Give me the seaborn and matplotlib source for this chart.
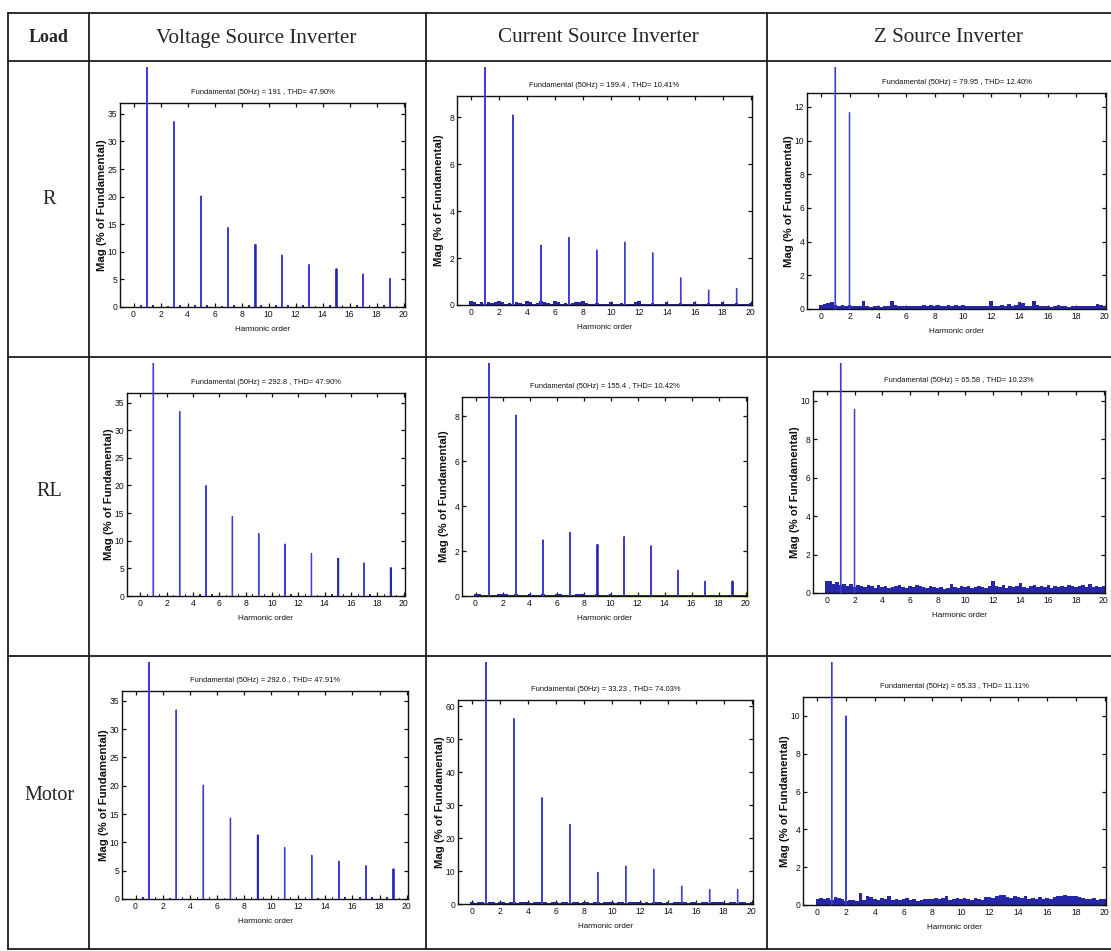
import numpy as np
import seaborn as sns
import matplotlib.pyplot as plt
from matplotlib.lines import Line2D
from matplotlib.transforms import Bbox, TransformedBbox
from matplotlib.ticker import MultipleLocator

# ---------------- data ----------------
loads = ['R', 'RL', 'Motor']
inverters = ['Voltage Source Inverter', 'Current Source Inverter', 'Z Source Inverter']

odd_orders = [1, 3, 5, 7, 9, 11, 13, 15, 17, 19]
zsi_orders = [1, 2]

# magnitudes in % of fundamental
vsi_r_mag = [100, 33.6, 20.1, 14.4, 11.3, 9.4, 7.7, 6.9, 6.0, 5.2]
vsi_rl_mag = [100, 33.4, 20.0, 14.4, 11.3, 9.4, 7.7, 6.8, 6.0, 5.1]
vsi_motor_mag = [100, 33.4, 20.1, 14.3, 11.3, 9.1, 7.7, 6.7, 5.9, 5.3]
csi_r_mag = [100, 8.1, 2.55, 2.88, 2.35, 2.68, 2.23, 1.16, 0.64, 0.71]
csi_rl_mag = [100, 8.06, 2.5, 2.84, 2.29, 2.65, 2.24, 1.15, 0.66, 0.66]
csi_motor_mag = [100, 56.3, 32.3, 24.2, 9.6, 11.5, 10.6, 5.45, 4.4, 4.4]
zsi_r_mag = [100, 11.66]
zsi_rl_mag = [100, 9.55]
zsi_motor_mag = [100, 10.0]

# harmonics that show up as two neighbouring bins (thicker spikes)
vsi_r_double = [9, 15]
vsi_rl_double = [15, 19]
vsi_motor_double = [9, 19]
csi_rl_double = [9, 19]

# small side components of the VSI spectra
vsi_side_orders = [0.55, 1.45, 2.55, 3.45, 4.55, 5.45, 6.55, 7.45, 8.55, 9.45,
                   10.55, 11.45, 12.55, 13.45, 14.55, 15.45, 16.55, 17.45, 18.55, 19.45]
vsi_side_mag = [0.3, 0.3, 0.25, 0.3, 0.3, 0.3, 0.25, 0.3, 0.3, 0.3,
                0.3, 0.3, 0.3, 0.25, 0.3, 0.3, 0.3, 0.3, 0.3, 0.25]

# noise floor, one value per 0.25 harmonic order from 0 to 20
noise_orders = np.arange(81) * 0.25
csi_r_noise = [0.18, 0.12, 0.05, 0.12, 0.06, 0.12, 0.08, 0.14, 0.16, 0.12, 0.06, 0.10,
               0.05, 0.14, 0.08, 0.06, 0.18, 0.12, 0.06, 0.10, 0.15, 0.12, 0.08, 0.06,
               0.16, 0.14, 0.06, 0.08, 0.06, 0.10, 0.12, 0.14, 0.16, 0.10, 0.06, 0.05,
               0.08, 0.06, 0.05, 0.06, 0.12, 0.06, 0.05, 0.08, 0.06, 0.06, 0.05, 0.14,
               0.16, 0.05, 0.04, 0.05, 0.08, 0.05, 0.04, 0.05, 0.12, 0.05, 0.04, 0.05,
               0.10, 0.05, 0.04, 0.05, 0.12, 0.05, 0.04, 0.05, 0.10, 0.05, 0.04, 0.05,
               0.12, 0.05, 0.04, 0.05, 0.10, 0.05, 0.04, 0.05, 0.08]
csi_rl_noise = [0.10, 0.08, 0.05, 0.06, 0.05, 0.06, 0.05, 0.08, 0.10, 0.08, 0.05, 0.06,
                0.08, 0.06, 0.05, 0.05, 0.10, 0.06, 0.05, 0.05, 0.08, 0.06, 0.05, 0.05,
                0.10, 0.08, 0.05, 0.05, 0.06, 0.05, 0.08, 0.10, 0.10, 0.06, 0.05, 0.05,
                0.10, 0.06, 0.05, 0.06, 0.08, 0.06, 0.05, 0.05, 0.06, 0.05, 0.04, 0.05,
                0.06, 0.05, 0.04, 0.05, 0.05, 0.04, 0.04, 0.05, 0.05, 0.04, 0.04, 0.05,
                0.05, 0.04, 0.04, 0.05, 0.05, 0.04, 0.04, 0.05, 0.06, 0.04, 0.04, 0.05,
                0.05, 0.04, 0.04, 0.05, 0.05, 0.04, 0.04, 0.05, 0.05]
csi_motor_noise = [0.5, 0.4, 0.5, 0.6, 0.4, 0.5, 0.5, 0.4, 0.6, 0.5, 0.4, 0.5,
                   0.5, 0.4, 0.5, 0.6, 0.5, 0.4, 0.5, 0.5, 0.6, 0.5, 0.4, 0.5,
                   0.5, 0.4, 0.6, 0.5, 0.4, 0.5, 0.5, 0.4, 0.5, 0.6, 0.4, 0.5,
                   0.5, 0.4, 0.5, 0.6, 0.5, 0.4, 0.5, 0.5, 0.4, 0.5, 0.6, 0.5,
                   0.5, 0.4, 0.5, 0.4, 0.6, 0.5, 0.5, 0.4, 0.5, 0.4, 0.6, 0.5,
                   0.5, 0.5, 0.4, 0.5, 0.6, 0.4, 0.5, 0.5, 0.4, 0.5, 0.5, 0.6,
                   0.5, 0.4, 0.5, 0.5, 0.4, 0.5, 0.5, 0.4, 0.5]
zsi_r_noise = [0.25, 0.30, 0.35, 0.40, 0.25, 0.20, 0.25, 0.20, 0.25, 0.15, 0.15, 0.20,
               0.45, 0.15, 0.10, 0.15, 0.15, 0.10, 0.15, 0.20, 0.45, 0.25, 0.20, 0.20,
               0.15, 0.20, 0.15, 0.20, 0.20, 0.25, 0.20, 0.25, 0.20, 0.25, 0.15, 0.15,
               0.25, 0.20, 0.25, 0.20, 0.25, 0.20, 0.15, 0.20, 0.15, 0.20, 0.15, 0.20,
               0.45, 0.15, 0.20, 0.25, 0.20, 0.30, 0.20, 0.25, 0.40, 0.35, 0.20, 0.20,
               0.45, 0.25, 0.20, 0.15, 0.20, 0.10, 0.15, 0.25, 0.20, 0.15, 0.10, 0.20,
               0.15, 0.15, 0.20, 0.15, 0.15, 0.20, 0.30, 0.25, 0.20]
zsi_rl_noise = [0.65, 0.60, 0.45, 0.55, 0.40, 0.45, 0.35, 0.45, 0.30, 0.40, 0.35, 0.30,
                0.40, 0.35, 0.25, 0.40, 0.30, 0.35, 0.25, 0.30, 0.35, 0.40, 0.30, 0.25,
                0.35, 0.30, 0.40, 0.35, 0.30, 0.25, 0.35, 0.30, 0.25, 0.30, 0.20, 0.25,
                0.45, 0.30, 0.25, 0.35, 0.30, 0.35, 0.25, 0.30, 0.35, 0.30, 0.25, 0.35,
                0.60, 0.35, 0.30, 0.40, 0.25, 0.35, 0.30, 0.35, 0.50, 0.30, 0.25, 0.35,
                0.40, 0.30, 0.35, 0.30, 0.40, 0.25, 0.35, 0.30, 0.35, 0.30, 0.40, 0.35,
                0.30, 0.35, 0.40, 0.30, 0.45, 0.30, 0.35, 0.30, 0.35]
zsi_motor_noise = [0.30, 0.35, 0.30, 0.35, 0.25, 0.40, 0.35, 0.30, 0.20, 0.25, 0.25, 0.20,
                   0.65, 0.25, 0.45, 0.40, 0.30, 0.25, 0.35, 0.30, 0.50, 0.25, 0.30, 0.25,
                   0.30, 0.35, 0.25, 0.30, 0.20, 0.25, 0.30, 0.30, 0.30, 0.35, 0.30, 0.35,
                   0.50, 0.25, 0.30, 0.35, 0.30, 0.35, 0.30, 0.25, 0.35, 0.30, 0.25, 0.40,
                   0.40, 0.35, 0.45, 0.55, 0.55, 0.40, 0.35, 0.45, 0.40, 0.35, 0.45, 0.30,
                   0.35, 0.30, 0.40, 0.30, 0.35, 0.30, 0.40, 0.45, 0.50, 0.55, 0.50, 0.45,
                   0.50, 0.40, 0.35, 0.30, 0.30, 0.35, 0.25, 0.30, 0.30]

fund_values = [['191', '199.4', '79.95'],
               ['292.8', '155.4', '65.58'],
               ['292.6', '33.23', '65.33']]
thd_values = [['47.90', '10.41', '12.40'],
              ['47.90', '10.42', '10.23'],
              ['47.91', '74.03', '11.11']]

# ---------------- layout (pixels) ----------------
W, H = 1111, 951
col_x = [8, 89, 426, 767, 1111]
row_y = [13, 61, 357, 656, 949]
axes_px = [[(120, 103, 405, 307), (457, 96, 752, 305), (807, 93, 1106, 309)],
           [(127, 393, 405, 596), (462, 397, 747, 596), (813, 391, 1105, 593)],
           [(122, 691, 408, 899), (458, 700, 753, 904), (803, 697, 1106, 905)]]
ytick_step = [[5, 2, 2], [5, 2, 2], [5, 10, 2]]

SPIKE = '#3d3dd2'
NOISE = '#2626a8'
INK = '#111111'

sns.set_theme(style='ticks')
plt.rcParams['font.family'] = ['Liberation Sans', 'DejaVu Sans']


def fx(px):
    return px / W


def fy(py):
    return 1 - py / H


fig = plt.figure(figsize=(W / 100, H / 100), dpi=100)
fig.patch.set_facecolor('white')

# table grid
for y in row_y:
    fig.add_artist(Line2D([fx(col_x[0]), fx(col_x[-1])], [fy(y), fy(y)],
                          transform=fig.transFigure, color='#1c1c1c', lw=1.3))
for x in col_x[:-1]:
    fig.add_artist(Line2D([fx(x), fx(x)], [fy(row_y[0]), fy(row_y[-1])],
                          transform=fig.transFigure, color='#1c1c1c', lw=1.3))

fig.text(fx(49), fy(38), 'Load', family='Liberation Serif', fontweight='bold',
         fontsize=13, ha='center', va='center')
head_x = [256, 598, 949]
for hx, name in zip(head_x, inverters):
    fig.text(fx(hx), fy(38), name, family='Liberation Serif', fontsize=15.2,
             ha='center', va='center')
label_y = [200, 492, 795]
for ly, name in zip(label_y, loads):
    fig.text(fx(49), fy(ly), name, family='Liberation Serif', fontsize=14.5,
             ha='center', va='center')

spectra = [[(odd_orders, vsi_r_mag, vsi_r_double, None),
            (odd_orders, csi_r_mag, [], csi_r_noise),
            (zsi_orders, zsi_r_mag, [], zsi_r_noise)],
           [(odd_orders, vsi_rl_mag, vsi_rl_double, None),
            (odd_orders, csi_rl_mag, csi_rl_double, csi_rl_noise),
            (zsi_orders, zsi_rl_mag, [], zsi_rl_noise)],
           [(odd_orders, vsi_motor_mag, vsi_motor_double, None),
            (odd_orders, csi_motor_mag, [], csi_motor_noise),
            (zsi_orders, zsi_motor_mag, [], zsi_motor_noise)]]

for i in range(3):
    for j in range(3):
        l, t, r, b = axes_px[i][j]
        ax = fig.add_axes([fx(l), fy(b), (r - l) / W, (b - t) / H])
        ax.set_facecolor('white')
        orders, mags, doubles, noise = spectra[i][j]

        if noise is not None:
            sns.histplot(x=noise_orders, weights=noise, binwidth=0.25,
                         binrange=(-0.125, 20.125), ax=ax, color=NOISE, alpha=1,
                         linewidth=0, edgecolor=NOISE, zorder=2)
        if j == 0:
            ax.bar(vsi_side_orders, vsi_side_mag, width=0.1, color=NOISE,
                   linewidth=0, zorder=2)

        bars = ax.bar(orders, mags, width=0.02, color=SPIKE, edgecolor=SPIKE,
                      linewidth=0.9, zorder=3)
        dbl_x = [d + 0.05 for d in doubles]
        dbl_y = [mags[orders.index(d)] for d in doubles]
        dbl = ax.bar(dbl_x, dbl_y, width=0.02, color=NOISE, edgecolor=NOISE,
                     linewidth=0.9, zorder=3)
        for patch in list(bars.patches) + list(dbl.patches):
            patch.set_snap(False)

        # the fundamental runs out of the axes up to the top of the cell
        cell = Bbox.from_extents(fx(col_x[j + 1]), fy(row_y[i + 2]),
                                 fx(col_x[j + 2]), fy(row_y[i + 1] + 6))
        for o, patch in zip(orders, bars.patches):
            if o == 1:
                patch.set_clip_path(None)
                patch.set_clip_box(TransformedBbox(cell, fig.transFigure))

        ax.set_xlim(-1, 20.1)
        ax.set_ylim(0, 1.1 * max(mags[1:]))
        ax.xaxis.set_major_locator(MultipleLocator(2))
        ax.yaxis.set_major_locator(MultipleLocator(ytick_step[i][j]))
        ax.tick_params(direction='in', length=3, width=0.9, top=True, right=True,
                       labelsize=6.2, pad=2, colors=INK)
        for sp in ax.spines.values():
            sp.set_visible(True)
            sp.set_color(INK)
            sp.set_linewidth(1.0)

        ax.set_title(f'Fundamental (50Hz) = {fund_values[i][j]} , THD= {thd_values[i][j]}%',
                     fontsize=5.4, pad=6.5, color=INK)
        ax.set_xlabel('Harmonic order', fontsize=5.8, color=INK)
        ax.set_ylabel('Mag (% of Fundamental)', fontsize=8.2, fontweight='bold',
                      color=INK)
        ax.xaxis.set_label_coords(0.5, -19 / (b - t))
        ax.yaxis.set_label_coords(-13 / (r - l), 0.5)

fig.savefig('out.png', dpi=100, facecolor='white')
